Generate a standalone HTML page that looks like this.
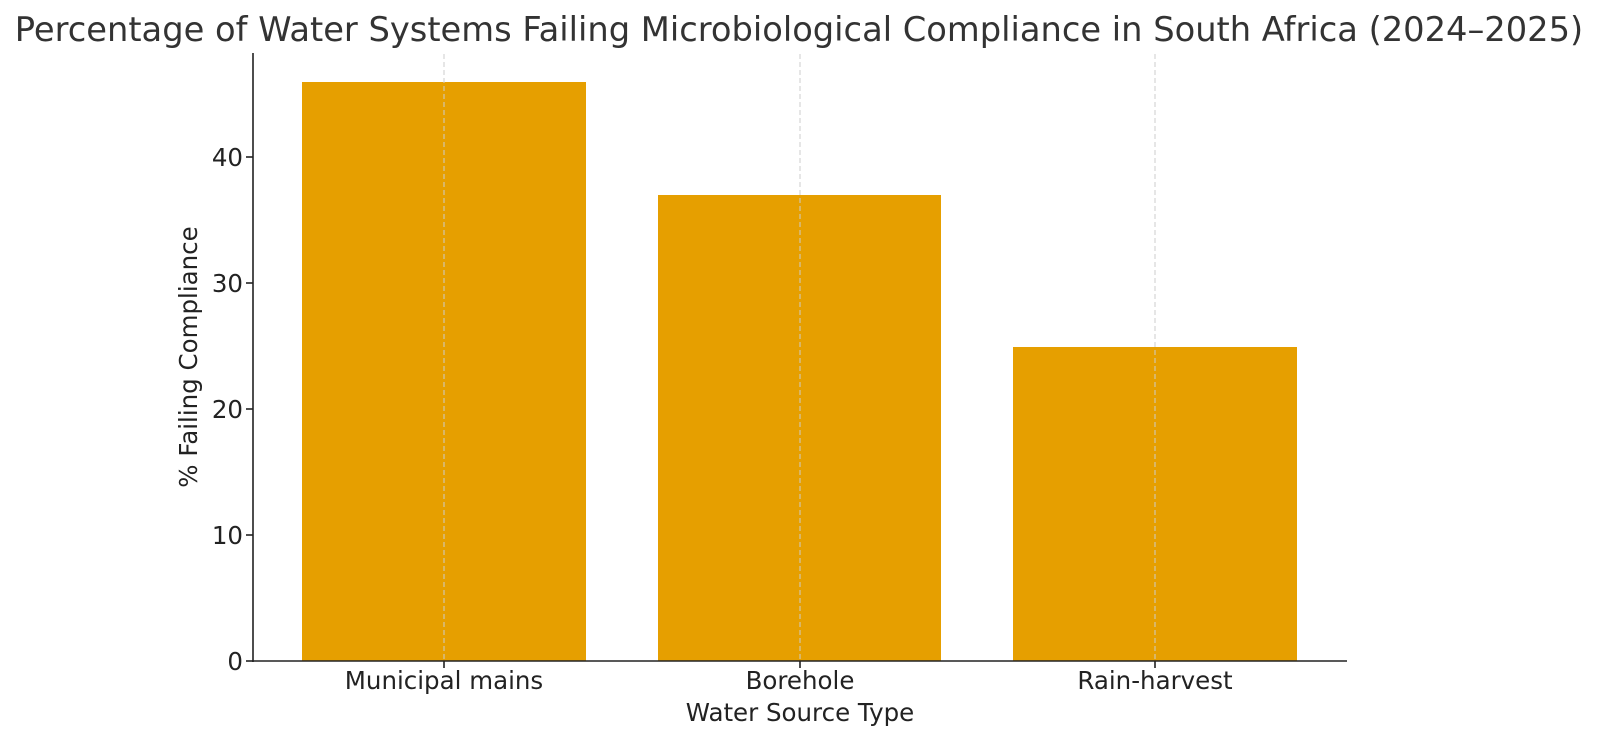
<!DOCTYPE html>
<html><head><style>
html,body{margin:0;padding:0;background:#fff;}
svg{display:block;font-family:"DejaVu Sans","Liberation Sans",sans-serif;}
</style></head><body>
<svg width="1600" height="743" viewBox="0 0 1600 743">
<rect width="1600" height="743" fill="#fff"/>
<text x="799" y="41" font-size="33.7" fill="#333" text-anchor="middle">Percentage of Water Systems Failing Microbiological Compliance in South Africa (2024–2025)</text>
<rect x="302" y="82" width="284" height="579" fill="#E69F00"/>
<rect x="658" y="195" width="283" height="466" fill="#E69F00"/>
<rect x="1013" y="347" width="284" height="314" fill="#E69F00"/>
<g stroke="#ccc" stroke-width="1" stroke-dasharray="5,3">
<line x1="444" y1="54" x2="444" y2="661"/>
<line x1="800" y1="54" x2="800" y2="661"/>
<line x1="1155" y1="54" x2="1155" y2="661"/>
</g>
<g stroke="#222" stroke-width="1.6">
<line x1="253" y1="53" x2="253" y2="662"/>
<line x1="252" y1="661" x2="1347" y2="661"/>
<line x1="246" y1="661" x2="253" y2="661"/>
<line x1="246" y1="535" x2="253" y2="535"/>
<line x1="246" y1="409" x2="253" y2="409"/>
<line x1="246" y1="283" x2="253" y2="283"/>
<line x1="246" y1="157" x2="253" y2="157"/>
<line x1="444" y1="661" x2="444" y2="668"/>
<line x1="800" y1="661" x2="800" y2="668"/>
<line x1="1155" y1="661" x2="1155" y2="668"/>
</g>
<g font-size="24.5" fill="#222" text-anchor="end">
<text x="243" y="670">0</text>
<text x="243" y="544">10</text>
<text x="243" y="418">20</text>
<text x="243" y="292">30</text>
<text x="243" y="166">40</text>
</g>
<g font-size="24.5" fill="#222" text-anchor="middle">
<text x="444" y="689">Municipal mains</text>
<text x="800" y="689">Borehole</text>
<text x="1155" y="689">Rain-harvest</text>
<text x="800" y="721">Water Source Type</text>
</g>
<text transform="translate(197,357) rotate(-90)" font-size="24.5" fill="#222" text-anchor="middle">% Failing Compliance</text>
</svg>
</body></html>
